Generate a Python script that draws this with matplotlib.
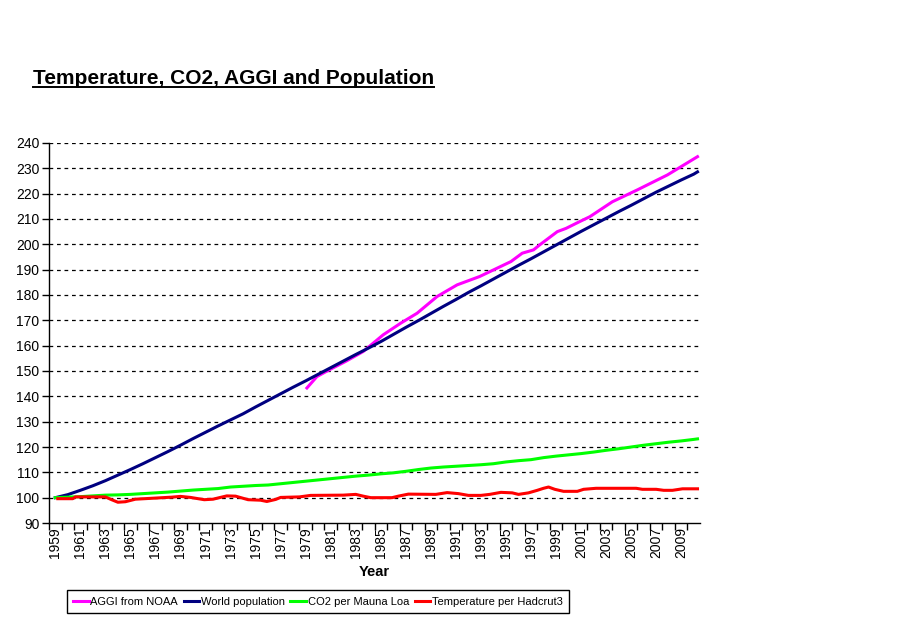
import matplotlib
matplotlib.use('Agg')
import matplotlib.pyplot as plt
from matplotlib.lines import Line2D

plt.rcParams['font.family'] = ['Liberation Sans', 'DejaVu Sans']

# annual values, index 1959 = 100
years = list(range(1959, 2011)) + [2010.3]
population = [100.0, 101.2, 102.9, 104.7, 106.7, 108.9, 111.1, 113.4, 115.8, 118.2,
              120.7, 123.3, 125.8, 128.3, 130.7, 133.1, 135.8, 138.4, 141.0, 143.6,
              146.1, 148.7, 151.3, 153.9, 156.5, 159.0, 161.6, 164.4, 167.2, 169.9,
              172.7, 175.5, 178.2, 181.0, 183.6, 186.3, 189.0, 191.7, 194.3, 197.0,
              199.7, 202.4, 205.1, 207.7, 210.3, 212.9, 215.4, 218.0, 220.6, 223.0,
              225.4, 227.7, 228.6]
co2 = [100.0, 100.2, 100.4, 100.7, 101.0, 101.1, 101.3, 101.6, 101.9, 102.2,
       102.6, 103.0, 103.3, 103.6, 104.2, 104.5, 104.8, 105.0, 105.5, 106.0,
       106.5, 107.0, 107.5, 108.0, 108.5, 108.9, 109.4, 109.8, 110.4, 111.1,
       111.7, 112.1, 112.4, 112.7, 113.0, 113.4, 114.1, 114.6, 115.0, 115.8,
       116.4, 116.9, 117.4, 118.0, 118.7, 119.3, 120.0, 120.7, 121.3, 121.9,
       122.4, 123.0, 123.2]

aggi_years = [1979.1, 1979.9, 1980.9, 1982.2, 1983.6, 1985.2, 1986.6, 1987.9, 1989.5,
              1991.1, 1992.9, 1994.3, 1995.4, 1996.3, 1997.2, 1997.7, 1999.1, 1999.8,
              2000.9, 2001.7, 2003.5, 2005.5, 2007.9, 2010.3]
aggi = [143.3, 147.8, 150.5, 153.8, 157.7, 164.3, 168.9, 172.8, 179.4,
        184.0, 187.3, 190.6, 193.2, 196.5, 197.8, 199.8, 205.0, 206.3,
        209.0, 210.9, 216.8, 221.5, 227.4, 234.6]

temp_years = [1959.2, 1960.4, 1960.6, 1963.0, 1963.5, 1964.0, 1964.6, 1965.4, 1966.5,
              1968.3, 1969.0, 1969.8, 1970.9, 1971.6, 1972.7, 1973.4, 1974.4, 1975.4,
              1975.9, 1976.6, 1977.0, 1978.5, 1979.4, 1982.0, 1983.0, 1983.6, 1984.2,
              1985.9, 1986.4, 1987.2, 1989.4, 1990.3, 1991.2, 1992.0, 1993.0, 1993.7,
              1994.6, 1995.5, 1996.0, 1996.8, 1997.5, 1998.0, 1998.4, 1998.9, 1999.6,
              2000.7, 2001.2, 2002.2, 2005.4, 2005.9, 2007.0, 2007.6, 2008.3, 2009.1,
              2010.3]
temp = [99.6, 99.6, 100.3, 100.3, 99.2, 98.2, 98.4, 99.4, 99.7,
        100.2, 100.5, 100.1, 99.2, 99.4, 100.7, 100.6, 99.2, 99.0,
        98.5, 99.3, 100.1, 100.3, 100.9, 101.0, 101.3, 100.6, 100.0,
        100.0, 100.6, 101.4, 101.3, 102.0, 101.6, 100.9, 100.9, 101.3,
        102.1, 101.9, 101.3, 101.9, 102.9, 103.7, 104.2, 103.3, 102.5,
        102.5, 103.3, 103.7, 103.7, 103.3, 103.3, 102.9, 102.9, 103.5,
        103.5]

label_years = list(range(1959, 2010, 2))

fig = plt.figure(figsize=(9.11, 6.23), dpi=100)
ax = fig.add_axes([0.0538, 0.1605, 0.7146, 0.61])

lw = 2.2
ax.plot(aggi_years, aggi, color='#FF00FF', lw=lw, label='AGGI from NOAA')
ax.plot(years, population, color='#000080', lw=lw, label='World population')
ax.plot(years, co2, color='#00FF00', lw=lw, label='CO2 per Mauna Loa')
ax.plot(temp_years, temp, color='#FF0000', lw=lw, label='Temperature per Hadcrut3')

ax.set_ylim(90, 240)
ax.set_yticks(range(90, 241, 10))
ax.set_xlim(1958.5, 2010.5)

# ticks between categories, labels on the categories
ax.set_xticks([y - 0.5 for y in range(1959, 2011)])
ax.set_xticklabels([])
ax.set_xticks(label_years, minor=True)
ax.set_xticklabels([str(y) for y in label_years], minor=True, rotation=90)
ax.tick_params(axis='x', which='major', length=5, direction='out', width=1)
ax.tick_params(axis='x', which='minor', length=0, pad=3, labelsize=10)
ax.tick_params(axis='y', length=5, direction='out', width=1, labelsize=10, pad=2)

for y in range(100, 241, 10):
    ax.axhline(y, color='black', lw=0.9, ls=(0, (3, 3)), zorder=0)

ax.spines['top'].set_visible(False)
ax.spines['right'].set_visible(False)
ax.spines['left'].set_linewidth(1)
ax.spines['bottom'].set_linewidth(1)

ax.set_xlabel('Year', fontsize=10.5, fontweight='bold', labelpad=5)

title = fig.text(0.036, 0.865, 'Temperature, CO2, AGGI and Population',
                 fontsize=15, fontweight='bold', ha='left', va='baseline')

fig.legend(loc='center', bbox_to_anchor=(0.349, 0.0345), ncol=4, fontsize=8,
           frameon=True, fancybox=False, edgecolor='black', framealpha=1,
           handlelength=1.4, handletextpad=0.15, columnspacing=0.5,
           borderpad=0.55)

# underline the title
fig.canvas.draw()
bb = title.get_window_extent().transformed(fig.transFigure.inverted())
fig.add_artist(Line2D([bb.x0, bb.x1], [0.861, 0.861], color='black', lw=1.4,
                      transform=fig.transFigure))

fig.savefig('out.png', dpi=100, facecolor='white')
